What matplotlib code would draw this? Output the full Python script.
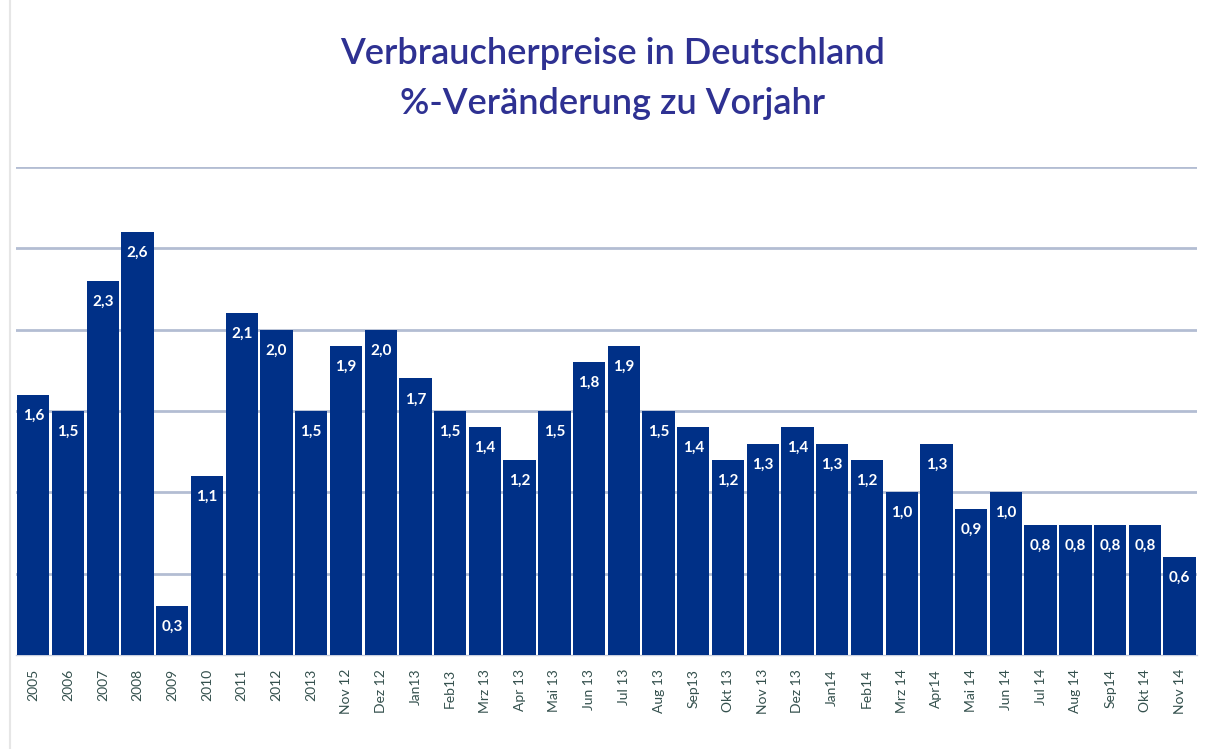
import matplotlib.pyplot as plt
from matplotlib.lines import Line2D
import numpy as np

plt.rcParams['font.family'] = ['Lato', 'DejaVu Sans']

# Kategorien und Werte
labels = ['2005', '2006', '2007', '2008', '2009', '2010', '2011', '2012', '2013',
          'Nov 12', 'Dez 12', 'Jan13', 'Feb13', 'Mrz 13', 'Apr 13', 'Mai 13',
          'Jun 13', 'Jul 13', 'Aug 13', 'Sep13', 'Okt 13', 'Nov 13', 'Dez 13',
          'Jan14', 'Feb14', 'Mrz 14', 'Apr14', 'Mai 14', 'Jun 14', 'Jul 14',
          'Aug 14', 'Sep14', 'Okt 14', 'Nov 14']
werte = [1.6, 1.5, 2.3, 2.6, 0.3, 1.1, 2.1, 2.0, 1.5, 1.9, 2.0, 1.7, 1.5, 1.4,
         1.2, 1.5, 1.8, 1.9, 1.5, 1.4, 1.2, 1.3, 1.4, 1.3, 1.2, 1.0, 1.3, 0.9,
         1.0, 0.8, 0.8, 0.8, 0.8, 0.6]

bar_color = '#003087'
title_color = '#2e3192'

fig = plt.figure(figsize=(12.1, 7.49), dpi=100)
ax = fig.add_axes([0.0132, 0.1255, 0.9760, 0.6515])

x = np.arange(len(werte))
bars = ax.bar(x, werte, width=0.93, color=bar_color, zorder=3)

# Beschriftungen in den Balken
for xi, v in zip(x, werte):
    ax.annotate(f'{v:.1f}'.replace('.', ','), (xi, v), xytext=(0, -15),
                textcoords='offset points', ha='center', va='center',
                color='white', fontsize=11, fontweight='bold', zorder=4)

ax.set_xlim(-0.5, len(werte) - 0.5)
ax.set_ylim(0, 3.0)
ax.set_yticks(np.arange(0.5, 3.01, 0.5))
ax.yaxis.grid(True, color='#b3bdd3', linewidth=2, zorder=0)
ax.tick_params(axis='y', left=False, labelleft=False)
ax.set_xticks(x)
ax.set_xticklabels(labels, rotation=90, fontsize=10, color='#34504d')
ax.tick_params(axis='x', length=0, pad=10)
for s in ['top', 'right', 'left']:
    ax.spines[s].set_visible(False)
ax.spines['bottom'].set_color('#c8cede')
ax.spines['bottom'].set_linewidth(1)

fig.text(0.506, 0.929, 'Verbraucherpreise in Deutschland', ha='center',
         va='center', fontsize=26, fontweight='semibold', color=title_color)
fig.text(0.506, 0.862, '%-Veränderung zu Vorjahr', ha='center',
         va='center', fontsize=26, fontweight='semibold', color=title_color)

fig.add_artist(Line2D([0.0085, 0.0085], [0.0, 1.0], color='#e6e6e6',
                      linewidth=1.5, transform=fig.transFigure))

fig.savefig('out.png', dpi=100)
